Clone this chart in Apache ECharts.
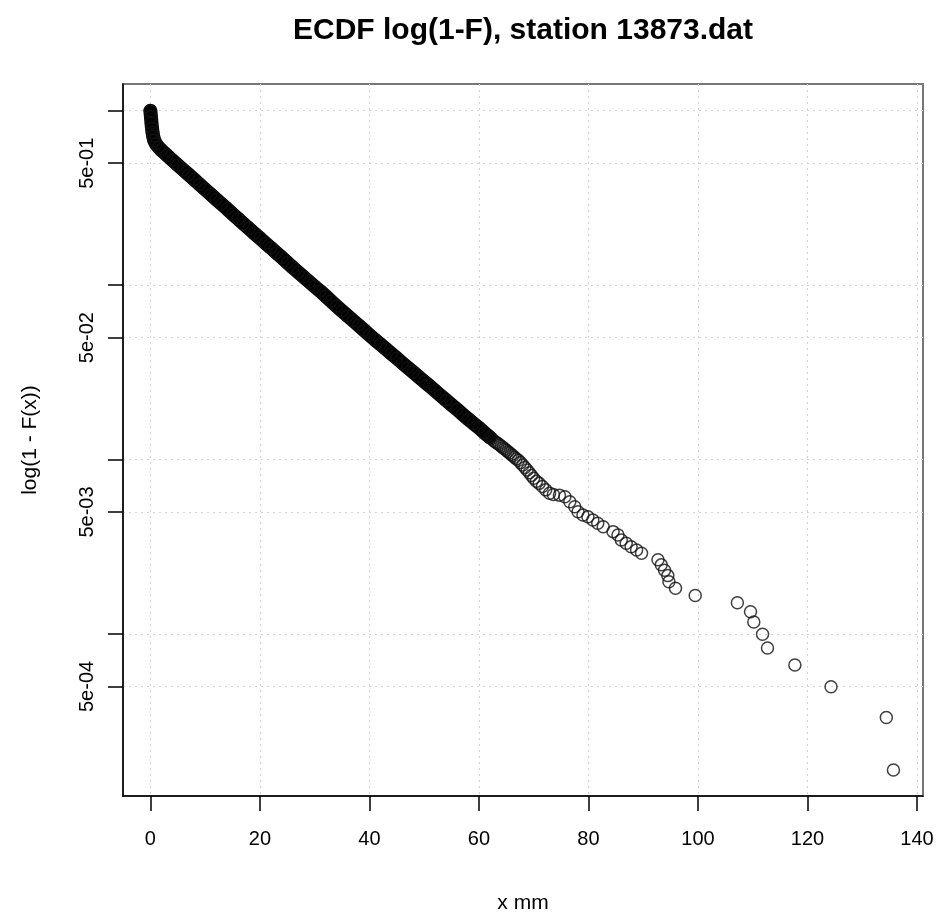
<!DOCTYPE html>
<html>
<head>
<meta charset="utf-8">
<script src="https://cdn.jsdelivr.net/npm/echarts@6/dist/echarts.min.js"></script>
<style>
  html, body { margin: 0; padding: 0; background: #fff; }
  #chart { width: 939px; height: 915px; }
</style>
</head>
<body>
<div id="chart"></div>
<script>
// dense part of the ECDF (drawn as a solid band of circles)
var denseX = [0, 0.1, 0.2, 0.3, 0.4, 0.5, 0.7, 1, 1.5, 2, 3, 4, 5, 6, 7, 8, 9, 10,
  11, 12, 13, 14, 15, 16, 17, 18, 19, 20, 21, 22, 23, 24, 25, 26, 27, 28, 29, 30,
  31, 32, 33, 34, 35, 36, 37, 38, 39, 40, 41, 42, 43, 44, 45, 46, 47, 48, 49, 50,
  51, 52, 53, 54, 55, 56, 57, 58, 59, 60, 61, 62];
var denseY = [1.0, 0.923, 0.851, 0.794, 0.750, 0.716, 0.676, 0.646, 0.617, 0.594, 0.556, 0.521, 0.489, 0.458, 0.430, 0.403, 0.378, 0.354,
  0.332, 0.311, 0.292, 0.274, 0.256, 0.240, 0.225, 0.211, 0.198, 0.186, 0.174, 0.1637, 0.1535, 0.1439, 0.1349, 0.1262, 0.1185, 0.1112, 0.1045, 0.0982,
  0.0925, 0.0866, 0.0810, 0.0758, 0.0711, 0.0667, 0.0627, 0.0588, 0.0552, 0.0518, 0.0486, 0.0458, 0.0431, 0.0405, 0.0381, 0.0358, 0.0337, 0.0317, 0.0298, 0.0280,
  0.0264, 0.0248, 0.0233, 0.0219, 0.0206, 0.0194, 0.0182, 0.0171, 0.0161, 0.0152, 0.01426, 0.0134];

// middle part, circles start to separate
var midX = [62.3, 62.6, 62.9, 63.2, 63.5, 63.8, 64.1, 64.4, 64.7, 65.0, 65.3, 65.6, 65.9, 66.2, 66.5, 66.8, 67.2, 67.6,
  68.0, 68.4, 68.8, 69.2, 69.6, 70.0, 70.5, 71.0, 71.6, 72.2, 72.9, 73.6,
  74.7, 75.7, 76.6, 77.5, 78.1, 79.0, 79.9, 80.8, 81.7, 82.7, 84.5, 85.4, 86.0, 86.9, 87.8, 88.8, 89.7];
var midY = [0.0132, 0.0129, 0.0127, 0.0125, 0.0123, 0.0121, 0.0119, 0.0117, 0.0115, 0.0113, 0.0111, 0.0109, 0.0107, 0.0105, 0.0103, 0.0101, 0.0099, 0.0096,
  0.0093, 0.0090, 0.0087, 0.0084, 0.0081, 0.0078, 0.0075, 0.0073, 0.0070, 0.0067, 0.0064, 0.0063,
  0.00625, 0.00612, 0.00573, 0.00536, 0.00502, 0.00481, 0.00470, 0.00450, 0.00431, 0.00412, 0.00386, 0.00369, 0.00346, 0.00331, 0.00316, 0.00303, 0.00290];

// upper tail, single circles
var tailX = [92.7, 93.3, 93.9, 94.5, 94.7, 95.9, 99.5, 107.2, 109.6, 110.2, 111.8, 112.7, 117.7, 124.3, 134.4, 135.7];
var tailY = [0.00266, 0.00249, 0.00232, 0.00216, 0.00199, 0.00183, 0.00166, 0.00151, 0.00134, 0.00117, 0.000997, 0.00083, 0.000664, 0.000498, 0.000332, 0.000166];

var xTicks = [0, 20, 40, 60, 80, 100, 120, 140];
var yTicks = [1, 0.5, 0.1, 0.05, 0.01, 0.005, 0.001, 0.0005];
var yLabels = [0.5, 0.05, 0.005, 0.0005];

function pairs(xs, ys) {
  return xs.map(function (x, i) { return [x, ys[i]]; });
}

// R style scientific label: 5e-01
function sci(v) {
  var parts = v.toExponential(0).split('e');
  var e = parseInt(parts[1], 10);
  var a = Math.abs(e);
  return parts[0] + 'e' + (e < 0 ? '-' : '+') + (a < 10 ? '0' + a : a);
}

var font = '"Liberation Sans", Arial, sans-serif';
var chart = echarts.init(document.getElementById('chart'), null, { renderer: 'canvas' });

var circleStyle = {
  color: 'rgba(0,0,0,0)',
  borderColor: '#111',
  borderWidth: 1.5
};

chart.setOption({
  animation: false,
  backgroundColor: '#fff',
  title: {
    text: 'ECDF log(1-F), station 13873.dat',
    left: 523,
    top: 16,
    padding: 0,
    textAlign: 'center',
    textStyle: { fontFamily: font, fontSize: 30, fontWeight: 'bold', color: '#000' }
  },
  grid: {
    left: 123, right: 16, top: 84, bottom: 119,
    outerBoundsMode: 'none',
    containLabel: false,
    show: true,
    borderColor: '#777',
    borderWidth: 2
  },
  xAxis: {
    type: 'value',
    min: -5.0,
    max: 141.1,
    name: 'x mm',
    nameLocation: 'middle',
    nameGap: 97,
    nameTextStyle: { fontFamily: font, fontSize: 21, color: '#000' },
    axisLine: { show: true, onZero: false, lineStyle: { color: '#000', width: 1.5 } },
    axisTick: { show: true, length: 15, customValues: xTicks, lineStyle: { color: '#000', width: 1.5 } },
    axisLabel: { customValues: xTicks, margin: 33, fontFamily: font, fontSize: 20, color: '#000' },
    splitLine: { show: true, lineStyle: { color: '#d3d3d3', type: [2, 4], width: 1 } }
  },
  yAxis: {
    type: 'log',
    logBase: 10,
    min: 1.177e-4,
    max: 1.423,
    name: 'log(1 - F(x))',
    nameLocation: 'middle',
    nameGap: 82,
    nameTextStyle: { fontFamily: font, fontSize: 21, color: '#000' },
    axisLine: { show: true, onZero: false, lineStyle: { color: '#000', width: 1.5 } },
    axisTick: { show: true, length: 15, customValues: yTicks, lineStyle: { color: '#000', width: 1.5 } },
    axisLabel: {
      customValues: yLabels, rotate: 90, margin: 26,
      fontFamily: font, fontSize: 20, color: '#000',
      formatter: function (v) { return sci(v); }
    },
    minorTick: { show: false },
    splitLine: { show: true, lineStyle: { color: '#d3d3d3', type: [2, 4], width: 1 } }
  },
  series: [
    {
      // solid band where thousands of circles overlap
      type: 'line',
      data: pairs(denseX, denseY),
      showSymbol: false,
      silent: true,
      z: 2,
      lineStyle: { color: '#000', width: 14, cap: 'round', join: 'round' }
    },
    {
      type: 'scatter',
      data: pairs(denseX, denseY).concat(pairs(midX, midY), pairs(tailX, tailY)),
      symbol: 'circle',
      symbolSize: 12,
      silent: true,
      z: 3,
      itemStyle: circleStyle
    }
  ]
});
</script>
</body>
</html>
